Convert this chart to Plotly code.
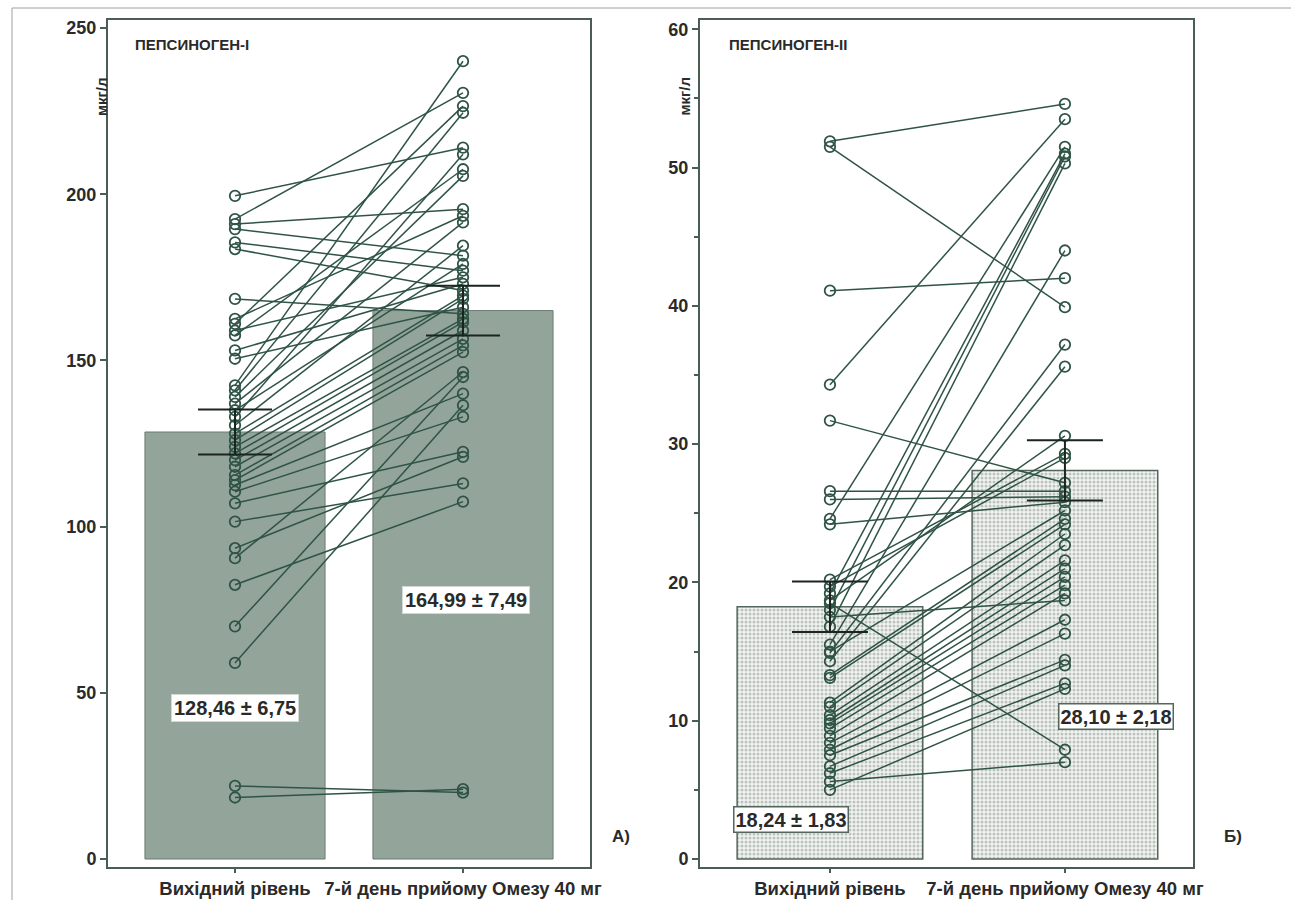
import plotly.graph_objects as go

# ---- data -------------------------------------------------------------
categories = ["Вихідний рівень", "7-й день прийому Омезу 40 мг"]

# Pepsinogen I, individual patients (baseline -> day 7), mcg/l
pg1_before = [199.5, 192.5, 191.0, 189.5, 185.5, 183.5, 168.5, 162.5, 161.0, 159.0,
              157.5, 153.0, 150.5, 142.5, 141.0, 139.0, 137.0, 135.0, 133.0, 130.5,
              128.0, 126.0, 124.0, 122.0, 120.0, 118.0, 115.5, 114.0, 112.5, 110.5,
              107.0, 101.5, 93.5, 90.5, 82.5, 70.0, 59.0, 22.0, 18.5]
pg1_after = [214.0, 230.5, 195.5, 181.5, 177.0, 171.0, 164.0, 193.5, 226.5, 175.0,
             207.5, 173.0, 166.0, 240.0, 224.5, 205.5, 191.5, 179.0, 212.0, 184.5,
             169.5, 168.5, 162.5, 161.5, 159.0, 156.5, 154.5, 152.5, 140.0, 133.0,
             122.5, 113.0, 121.0, 146.5, 107.5, 145.0, 136.5, 20.0, 21.0]
pg1_mean = [128.46, 164.99]
pg1_sem = [6.75, 7.49]
pg1_labels = ["128,46 ± 6,75", "164,99 ± 7,49"]

# Pepsinogen II, individual patients (baseline -> day 7), mcg/l
pg2_before = [51.9, 51.5, 41.1, 34.3, 31.7, 26.6, 26.0, 24.6, 24.2, 20.2,
              19.7, 19.2, 18.7, 18.5, 18.0, 17.5, 16.8, 15.5, 15.0, 14.9,
              14.3, 13.3, 13.1, 11.3, 11.0, 10.4, 10.05, 9.8, 9.45, 8.9,
              8.4, 7.9, 7.5, 6.7, 6.2, 5.6, 5.0]
pg2_after = [54.6, 39.9, 42.0, 53.5, 27.2, 26.6, 26.2, 51.5, 25.8, 29.3,
             29.0, 51.0, 30.6, 7.9, 50.8, 18.7, 50.3, 44.0, 25.2, 37.2,
             35.6, 24.6, 24.2, 23.5, 22.7, 21.6, 21.0, 20.4, 19.8, 19.2,
             17.3, 16.3, 14.4, 14.0, 12.7, 7.0, 12.3]
pg2_mean = [18.24, 28.10]
pg2_sem = [1.83, 2.18]
pg2_labels = ["18,24 ± 1,83", "28,10 ± 2,18"]

pg1_ticks = [0, 50, 100, 150, 200, 250]
pg2_ticks = [0, 10, 20, 30, 40, 50, 60]

# ---- styling ------------------------------------------------------------
FONT = "Liberation Sans"
TEXT = "#2a2a2a"
LINE_GREEN = "#2f5446"
FRAME = "#4b5d54"
ERR = "#1c2420"


def paired(before, after):
    xs, ys = [], []
    for b, a in zip(before, after):
        xs += [0, 1, None]
        ys += [b, a, None]
    return xs, ys


fig = go.Figure()

# panel A: solid grey-green bars
fig.add_trace(go.Bar(
    x=[0, 1], y=pg1_mean, width=0.79, xaxis="x", yaxis="y",
    marker=dict(color="#93a49b", line=dict(color="#6b7c73", width=1)),
    hoverinfo="skip"))

xs, ys = paired(pg1_before, pg1_after)
fig.add_trace(go.Scatter(
    x=xs, y=ys, mode="lines+markers", xaxis="x", yaxis="y",
    line=dict(color=LINE_GREEN, width=1.5),
    marker=dict(symbol="circle-open", size=10.5, color=LINE_GREEN, line=dict(width=1.8)),
    connectgaps=False))

fig.add_trace(go.Scatter(
    x=[0, 1], y=pg1_mean, mode="markers", xaxis="x", yaxis="y",
    marker=dict(size=1, color="rgba(0,0,0,0)"),
    error_y=dict(type="data", array=pg1_sem, color=ERR, thickness=2, width=37)))

# panel B: dotted light bars
fig.add_trace(go.Bar(
    x=[0, 1], y=pg2_mean, width=0.79, xaxis="x2", yaxis="y2",
    marker=dict(color="#eef0ee",
                pattern=dict(shape=".", fgcolor="#87948c", bgcolor="#f1f3f1",
                             size=4, solidity=0.45),
                line=dict(color="#55665d", width=1.5)),
    hoverinfo="skip"))

xs, ys = paired(pg2_before, pg2_after)
fig.add_trace(go.Scatter(
    x=xs, y=ys, mode="lines+markers", xaxis="x2", yaxis="y2",
    line=dict(color=LINE_GREEN, width=1.5),
    marker=dict(symbol="circle-open", size=10.5, color=LINE_GREEN, line=dict(width=1.8)),
    connectgaps=False))

fig.add_trace(go.Scatter(
    x=[0, 1], y=pg2_mean, mode="markers", xaxis="x2", yaxis="y2",
    marker=dict(size=1, color="rgba(0,0,0,0)"),
    error_y=dict(type="data", array=pg2_sem, color=ERR, thickness=2, width=38)))

axis_common = dict(showline=True, mirror=True, linecolor=FRAME, linewidth=2,
                   showgrid=False, zeroline=False, ticks="outside",
                   tickcolor=FRAME, tickwidth=1.5, automargin=False)
ytick_font = dict(family=FONT, size=18, color=TEXT, weight="bold")
xtick_font = dict(family=FONT, size=18.5, color=TEXT, weight="bold")

fig.update_layout(
    width=1291, height=900,
    margin=dict(l=0, r=0, t=20, b=33),
    paper_bgcolor="white", plot_bgcolor="white",
    showlegend=False, barmode="overlay",
    font=dict(family=FONT, color=TEXT),
    xaxis=dict(domain=[108 / 1291, 590 / 1291], range=[-0.557, 1.557], anchor="y",
               tickvals=[0, 1], ticktext=categories, ticklen=4, tickangle=0,
               tickfont=xtick_font, **axis_common),
    yaxis=dict(domain=[0, 1], range=[-2.4, 252.4], anchor="x",
               tickvals=pg1_ticks, ticklen=6, tickfont=ytick_font, **axis_common),
    xaxis2=dict(domain=[700 / 1291, 1193 / 1291], range=[-0.553, 1.545], anchor="y2",
                tickvals=[0, 1], ticktext=categories, ticklen=4, tickangle=0,
                tickfont=xtick_font, **axis_common),
    yaxis2=dict(domain=[0, 1], range=[-0.58, 60.67], anchor="x2",
                tickvals=pg2_ticks, ticklen=6, tickfont=ytick_font,
                minor=dict(dtick=5, ticks="outside", ticklen=4, tickcolor=FRAME),
                **axis_common),
)

bold = dict(family=FONT, color=TEXT, weight="bold")
ann = []
# panel titles
ann.append(dict(x=-0.447, y=245, xref="x", yref="y", text="ПЕПСИНОГЕН-І",
                showarrow=False, xanchor="left", yanchor="middle",
                font=dict(size=15, **bold)))
ann.append(dict(x=-0.438, y=58.9, xref="x2", yref="y2", text="ПЕПСИНОГЕН-ІІ",
                showarrow=False, xanchor="left", yanchor="middle",
                font=dict(size=15, **bold)))
# units
ann.append(dict(x=91 / 1291, y=0.935, xref="paper", yref="paper", text="мкг/л",
                showarrow=False, textangle=-90, font=dict(size=15, **bold)))
ann.append(dict(x=685 / 1291, y=0.935, xref="paper", yref="paper", text="мкг/л",
                showarrow=False, textangle=-90, font=dict(size=15, **bold)))
# panel letters
ann.append(dict(x=621 / 1291, y=19 / 847, xref="paper", yref="paper", text="А)",
                showarrow=False, font=dict(size=17, **bold)))
ann.append(dict(x=1222 / 1291, y=19 / 847, xref="paper", yref="paper", text="Б)",
                showarrow=False, xanchor="left", font=dict(size=17, **bold)))
# mean ± SEM boxes
for xv, yv, t in zip([0.0, 1.015], [45.4, 77.9], pg1_labels):
    ann.append(dict(x=xv, y=yv, xref="x", yref="y", text=t, showarrow=False,
                    bgcolor="white", bordercolor="#d4d9d5", borderwidth=1, borderpad=2,
                    font=dict(size=20, **bold)))
for xv, yv, t in zip([-0.164, 1.217], [2.82, 10.27], pg2_labels):
    ann.append(dict(x=xv, y=yv, xref="x2", yref="y2", text=t, showarrow=False,
                    bgcolor="white", bordercolor="#55665d", borderwidth=1.5, borderpad=1,
                    font=dict(size=20, **bold)))
fig.update_layout(annotations=ann)

# page border lines
fig.add_shape(type="line", xref="paper", yref="paper", x0=12 / 1291, x1=1.0,
              y0=1 + 12 / 847, y1=1 + 12 / 847, line=dict(color="#9aa39e", width=1))
fig.add_shape(type="line", xref="paper", yref="paper", x0=12 / 1291, x1=12 / 1291,
              y0=1 + 12 / 847, y1=-33 / 847, line=dict(color="#9aa39e", width=1))

fig.write_html("out.html")
